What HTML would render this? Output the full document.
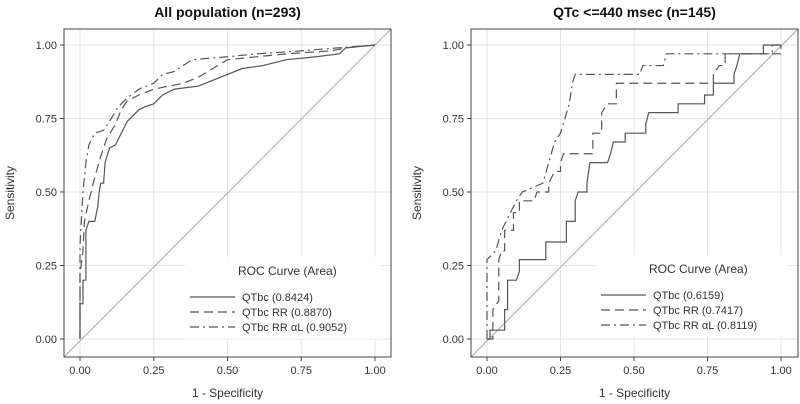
<!DOCTYPE html>
<html><head><meta charset="utf-8"><style>
body{margin:0;background:#fff;}
svg{display:block;font-family:"Liberation Sans",sans-serif;}
</style></head><body>
<svg id="chart" width="800" height="404"></svg>
<script>
const ticks=[0,0.25,0.5,0.75,1];
const tickLabels=["0.00","0.25","0.50","0.75","1.00"];
const titles=["All population (n=293)","QTc <=440 msec (n=145)"];
const seriesNames=["QTbc","QTbc RR","QTbc RR"];
const aucLeft=["(0.8424)","(0.8870)","(0.9052)"];
const aucRight=["(0.6159)","(0.7417)","(0.8119)"];
const leftSolid=[[0,0],[0,0.12],[0.01,0.12],[0.01,0.2],[0.02,0.2],[0.02,0.37],[0.03,0.4],[0.05,0.4],[0.06,0.45],[0.065,0.5],[0.07,0.53],[0.08,0.53],[0.085,0.6],[0.1,0.65],[0.12,0.66],[0.14,0.7],[0.16,0.74],[0.2,0.78],[0.22,0.79],[0.25,0.8],[0.28,0.83],[0.32,0.85],[0.4,0.86],[0.45,0.88],[0.5,0.9],[0.55,0.92],[0.62,0.93],[0.7,0.95],[0.8,0.96],[0.88,0.97],[0.9,0.99],[1,1]];
const leftDash=[[0,0],[0,0.22],[0.01,0.3],[0.015,0.4],[0.03,0.47],[0.05,0.55],[0.07,0.62],[0.09,0.68],[0.12,0.73],[0.14,0.78],[0.16,0.81],[0.2,0.83],[0.25,0.85],[0.3,0.86],[0.35,0.87],[0.4,0.89],[0.45,0.92],[0.5,0.95],[0.6,0.96],[0.7,0.97],[0.85,0.98],[0.9,0.99],[1,1]];
const leftDashDot=[[0,0],[0,0.32],[0.01,0.5],[0.02,0.6],[0.03,0.66],[0.05,0.7],[0.08,0.71],[0.1,0.74],[0.13,0.79],[0.16,0.82],[0.2,0.85],[0.25,0.87],[0.28,0.9],[0.32,0.91],[0.38,0.95],[0.5,0.96],[0.6,0.97],[0.75,0.98],[0.87,0.99],[1,1]];
const rightSolid=[[0,0],[0.01,0],[0.01,0.03],[0.06,0.03],[0.06,0.1],[0.07,0.1],[0.07,0.2],[0.1,0.2],[0.11,0.23],[0.11,0.27],[0.2,0.27],[0.2,0.33],[0.27,0.33],[0.27,0.4],[0.3,0.4],[0.3,0.47],[0.31,0.5],[0.34,0.5],[0.34,0.53],[0.35,0.6],[0.41,0.6],[0.42,0.63],[0.43,0.67],[0.47,0.67],[0.47,0.7],[0.54,0.7],[0.54,0.73],[0.55,0.77],[0.65,0.77],[0.65,0.8],[0.74,0.8],[0.74,0.83],[0.77,0.83],[0.77,0.87],[0.84,0.87],[0.84,0.9],[0.85,0.93],[0.86,0.97],[0.94,0.97],[0.94,1],[1,1]];
const rightDash=[[0,0],[0.02,0],[0.02,0.1],[0.04,0.13],[0.04,0.27],[0.05,0.3],[0.06,0.3],[0.06,0.37],[0.09,0.37],[0.09,0.43],[0.11,0.43],[0.11,0.47],[0.16,0.47],[0.17,0.5],[0.21,0.5],[0.21,0.53],[0.23,0.57],[0.25,0.57],[0.25,0.6],[0.26,0.63],[0.36,0.63],[0.36,0.7],[0.39,0.7],[0.39,0.77],[0.41,0.8],[0.44,0.8],[0.44,0.87],[0.77,0.87],[0.77,0.9],[0.79,0.93],[0.81,0.93],[0.81,0.97],[1,0.97],[1,1]];
const rightDashDot=[[0,0],[0,0.27],[0.01,0.28],[0.03,0.3],[0.05,0.37],[0.08,0.43],[0.1,0.47],[0.12,0.5],[0.19,0.53],[0.21,0.6],[0.23,0.67],[0.25,0.7],[0.28,0.8],[0.29,0.87],[0.3,0.9],[0.52,0.9],[0.53,0.93],[0.6,0.93],[0.61,0.97],[0.97,0.97],[0.97,1],[1,1]];

const svg=document.getElementById('chart');
const NS="http://www.w3.org/2000/svg";
function mk(tag,attrs,parent){const e=document.createElementNS(NS,tag);for(const k in attrs)e.setAttribute(k,attrs[k]);parent.appendChild(e);return e;}
const dashes=["","9,5","9,4,2,4"];
function panel(p){
  const g=mk('g',{},svg);
  
  
  const sx=v=>p.x0+v*(p.x1-p.x0), sy=v=>p.y0+v*(p.y1-p.y0);
  for(const t of ticks){
    const gl=mk('line',{x1:sx(t),x2:sx(t),y1:p.top,y2:p.bot,stroke:'#e6e6e6','stroke-width':1},g);
    
    const gh=mk('line',{x1:p.left,x2:p.right,y1:sy(t),y2:sy(t),stroke:'#e6e6e6','stroke-width':1},g);
    
  }
  const lg=mk('rect',{x:p.lx-5,y:p.ly-20,width:p.right-p.lx-5,height:82,fill:'#fff'},g);
  
  const diag=mk('line',{x1:p.left,y1:p.bot,x2:p.right,y2:p.top,stroke:'#a8a8a8','stroke-width':1},g);
  
  p.series.forEach((s,i)=>{
    const pl=mk('polyline',{points:s.map(d=>sx(d[0])+','+sy(d[1])).join(' '),fill:'none',stroke:'#555','stroke-width':1.2,'stroke-dasharray':dashes[i]},g);
    
    
  });
  const fr=mk('rect',{x:p.left,y:p.top,width:p.right-p.left,height:p.bot-p.top,fill:'none',stroke:'#444','stroke-width':1},g);
  
  ticks.forEach((t,i)=>{
    mk('line',{x1:sx(t),x2:sx(t),y1:p.bot,y2:p.bot+4,stroke:'#444'},g);
    mk('line',{x1:p.left-4,x2:p.left,y1:sy(t),y2:sy(t),stroke:'#444'},g);
    const xl=mk('text',{x:sx(t),y:p.bot+17,'font-size':11,fill:'#333','text-anchor':'middle'},g);xl.textContent=tickLabels[i];
    
    const yl=mk('text',{x:p.left-7,y:sy(t)+4,'font-size':11,fill:'#333','text-anchor':'end'},g);yl.textContent=tickLabels[i];
    
  });
  const ti=mk('text',{x:(p.left+p.right)/2,y:17,'font-size':14,'font-weight':'bold',fill:'#111','text-anchor':'middle'},g);ti.textContent=p.title;
  
  const xt=mk('text',{x:(p.left+p.right)/2,y:p.bot+40,'font-size':12,fill:'#333','text-anchor':'middle'},g);xt.textContent='1 - Specificity';
  
  const yt=mk('text',{x:0,y:0,'font-size':12,fill:'#333','text-anchor':'middle',transform:`translate(${p.left-50},${(p.top+p.bot)/2}) rotate(-90)`},g);yt.textContent='Sensitivity';
  
  const lt=mk('text',{x:p.lx+48,y:p.ly-2,'font-size':12,fill:'#333'},g);lt.textContent='ROC Curve (Area)';
  
  p.auc.forEach((a,i)=>{
    const y=p.ly+24+i*15;
    const ll=mk('line',{x1:p.lx,x2:p.lx+45,y1:y-4,y2:y-4,stroke:'#555','stroke-width':1.2,'stroke-dasharray':dashes[i]},g);
    
    const tx=mk('text',{x:p.lx+52,y:y,'font-size':11,fill:'#333'},g);
    tx.textContent=seriesNames[i]+(i==2?' \u03b1L ':'  ')+a;
    
  });
}
panel({name:'all-population-panel',left:64,right:391,top:29,bot:357,x0:80,x1:375,y0:339,y1:45,title:titles[0],series:[leftSolid,leftDash,leftDashDot],auc:aucLeft,lx:190,ly:277});
panel({name:'qtc-440-panel',left:471,right:798,top:29,bot:357,x0:487,x1:781,y0:339,y1:45,title:titles[1],series:[rightSolid,rightDash,rightDashDot],auc:aucRight,lx:601,ly:275});
</script>
</body></html>
